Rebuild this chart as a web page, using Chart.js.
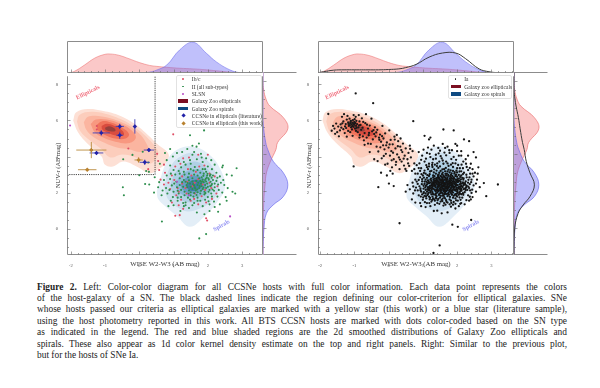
<!DOCTYPE html>
<html lang="en">
<head>
<meta charset="UTF-8">
<title>Figure 2</title>
<script src="https://cdn.jsdelivr.net/npm/chart.js"></script>
<style>
    html, body { margin: 0; padding: 0; background: #fff; }
    body { width: 600px; height: 388px; position: relative; overflow: hidden; filter: blur(0.35px); }
    canvas { position: absolute; }
    .legend { position: absolute; border: 1px solid #e2e2e2; border-radius: 2px; background: rgba(255,255,255,.85);
        font: 5.5px "Liberation Serif", serif; color: #333; box-sizing: border-box; }
    .row { position: absolute; white-space: nowrap; line-height: 6px; }
    .mark { position: absolute; }
    .line { position: absolute; left: 37px; width: 530px; font: 9.4px/11px "Liberation Serif", serif; color: #222;
        text-align: justify; text-align-last: justify; white-space: nowrap; }
    .line.last { text-align-last: left; }
</style>
</head>
<body>
<canvas id="topL" width="196" height="32" style="left:67px;top:41px"></canvas>
<canvas id="mainL" width="209" height="197" style="left:54px;top:72px"></canvas>
<canvas id="sideL" width="34" height="183" style="left:263px;top:72px"></canvas>
<canvas id="topR" width="196" height="32" style="left:318px;top:41px"></canvas>
<canvas id="mainR" width="209" height="197" style="left:305px;top:72px"></canvas>
<canvas id="sideR" width="34" height="183" style="left:514px;top:72px"></canvas>

<div id="legL" class="legend" style="left:176px;top:75px;width:86px;height:53px"></div>
<div id="legR" class="legend" style="left:448px;top:75px;width:64px;height:24px"></div>

<div id="caption"></div>

<script>
// marginal kde
const kdeX = [-2.1,-1.9,-1.6,-1.3,-1.0,-0.85,-0.6,-0.3,0,0.3,0.5,0.8,1.18,1.57,1.96,2.25,2.64,2.93,3.2,3.6];
const kdeEll = [0,0.05,0.25,0.47,0.59,0.6,0.56,0.45,0.33,0.24,0.21,0.18,0.15,0.13,0.1,0.07,0.03,0.01,0,0];
const kdeSpi = [0,0,0,0,0,0,0,0,0,0.03,0.09,0.25,0.73,0.97,0.62,0.35,0.1,0.01,0,0];
const kdeIa = [0,0.04,0.09,0.1,0.1,0.1,0.1,0.1,0.11,0.13,0.17,0.27,0.5,0.63,0.63,0.45,0.13,0.04,0.01,0];

// marginal kde
const sideY = [8.5,8,7.5,7,6.63,6,5.4,4.65,4.27,3.63,3.0,2.35,1.72,1.26,0.8,0,-1,-1.46];
const sideEll = [0,0,0.02,0.09,0.2,0.6,0.73,0.43,0.38,0.22,0.1,0.06,0.03,0.02,0.01,0.01,0,0];
const sideSpi = [0,0,0,0,0,0,0.02,0.08,0.14,0.3,0.6,0.73,0.6,0.3,0.1,0.03,0.005,0];
const sideIa = [0,0,0,0.03,0.06,0.13,0.18,0.25,0.3,0.36,0.47,0.6,0.47,0.27,0.12,0.02,0,0];

// 2d density levels of the galaxy zoo samples, outermost first
const ellipticalLevels = [
    [[-1.93,6.0],[-1.84,6.45],[-1.5,6.63],[-1.12,6.55],[-0.62,6.3],[-0.13,5.8],[0.25,5.2],[0.55,4.65],[0.85,4.15],[0.8,3.7],[0.6,3.35],[0.31,3.08],[-0.08,3.45],[-0.47,3.72],[-0.77,3.45],[-1.0,3.54],[-1.1,4.0],[-1.5,4.7],[-1.79,5.35],[-1.93,6.0]],
    [[-1.82,5.95],[-1.74,6.32],[-1.4,6.48],[-1.0,6.38],[-0.55,6.08],[-0.1,5.58],[0.25,5.02],[0.5,4.45],[0.55,4.1],[0.3,3.6],[-0.1,3.95],[-0.5,4.12],[-0.85,3.95],[-1.1,4.4],[-1.45,4.9],[-1.72,5.4],[-1.82,5.95]],
    [[-1.62,5.9],[-1.5,6.2],[-1.2,6.25],[-0.8,6.1],[-0.4,5.8],[-0.02,5.3],[0.2,4.75],[0.25,4.4],[0.02,4.25],[-0.3,4.4],[-0.65,4.5],[-1.0,4.75],[-1.35,5.1],[-1.55,5.5],[-1.62,5.9]],
    [[-1.42,5.8],[-1.27,6.05],[-0.95,6.05],[-0.55,5.82],[-0.22,5.45],[-0.1,5.05],[-0.28,4.75],[-0.7,4.82],[-1.05,5.05],[-1.3,5.35],[-1.42,5.8]],
    [[-1.25,5.75],[-1.1,5.95],[-0.85,5.9],[-0.5,5.6],[-0.3,5.25],[-0.4,5.0],[-0.7,5.0],[-1.0,5.2],[-1.2,5.45],[-1.25,5.75]],
    [[-1.1,5.7],[-0.95,5.82],[-0.75,5.72],[-0.5,5.45],[-0.45,5.2],[-0.65,5.15],[-0.9,5.3],[-1.08,5.5],[-1.1,5.7]],
    [[-1.0,5.6],[-0.88,5.68],[-0.72,5.55],[-0.7,5.42],[-0.85,5.4],[-0.98,5.48],[-1.0,5.6]]
];
const spiralLevels = [
    [[0.51,2.08],[0.8,3.72],[1.09,4.36],[1.57,4.55],[2.06,4.09],[2.4,3.17],[2.5,2.26],[2.26,1.44],[1.92,0.72],[1.48,0.11],[1.09,0.72],[0.75,1.26],[0.55,1.64],[0.51,2.08]],
    [[0.72,2.3],[0.9,3.4],[1.2,4.0],[1.6,4.2],[2.0,3.75],[2.25,3.0],[2.32,2.2],[2.1,1.5],[1.75,1.1],[1.4,0.95],[1.1,1.2],[0.85,1.6],[0.72,2.3]],
    [[0.9,2.4],[1.05,3.1],[1.35,3.6],[1.7,3.7],[2.0,3.3],[2.15,2.7],[2.1,2.0],[1.85,1.55],[1.5,1.45],[1.2,1.6],[1.0,1.9],[0.9,2.4]],
    [[1.05,2.4],[1.2,2.95],[1.5,3.25],[1.8,3.25],[2.0,2.85],[2.05,2.3],[1.85,1.85],[1.5,1.75],[1.2,1.95],[1.05,2.4]],
    [[1.2,2.4],[1.35,2.8],[1.6,2.95],[1.85,2.8],[1.95,2.4],[1.8,2.05],[1.5,1.95],[1.3,2.1],[1.2,2.4]],
    [[1.35,2.4],[1.5,2.65],[1.7,2.7],[1.85,2.5],[1.75,2.2],[1.5,2.1],[1.35,2.4]]
];
const ellipticalColors = ["#fde0d5","#fccdbc","#fbb5a0","#f89880","#f0735b","#d94c3f","#96413c"];
const spiralColors = ["rgba(222,235,246,.85)","#cde0ef","#b0d0e5","#8cbad8","#669dc4","#3f7da9"];

// colour criterion box
const cutX = [-2.11,0.46,0.46];
const cutY = [3,3,8.48];

// ccsne in ellipticals: x, y, x error, y error
const litX = [-1.11,-0.57,-0.57,-0.13,0.28,0.16,-1.25];
const litY = [5.31,5.67,5.18,5.67,4.36,3.68,4.2];
const litXErr = [0.25,0.12,0.1,0.03,0.15,0.15,0.2];
const litYErr = [0.15,0.15,0.2,0.4,0.1,0.15,0.1];
const thisX = [-1.4,-1.52,-0.02];
const thisY = [4.36,3.27,3.81];
const thisXErr = [0.44,0.27,0.12];
const thisYErr = [0.45,0.05,0.15];

const slsnPts = [[2.65,0.68],[1.45,1.85],[-2.02,5.72],[1.1,2.6]];

const ibcPts = [[-1.24,5.69],[-1.24,5.5],[-0.32,4.45],[0.26,3.3],[0.99,5.23],[0.52,4.15],[0.55,3.75],[0.58,3.25],[1.28,3.9],[1.45,3.95],[1.72,4.1],[2.0,4.1],[1.2,3.6],[0.72,3.55],[0.75,3.1],[1.05,3.45],[0.95,2.95],[0.62,2.72],[0.72,2.45],[1.02,2.7],[1.25,2.9],[1.52,2.95],[1.65,3.15],[1.9,3.5],[0.9,2.2],[1.12,2.25],[1.25,2.5],[1.4,2.6],[1.55,2.35],[1.72,2.75],[1.85,2.45],[2.05,2.55],[2.2,2.9],[2.28,2.35],[1.08,1.85],[1.22,1.6],[1.38,1.95],[1.5,1.55],[1.62,1.95],[1.82,1.8],[1.95,1.45],[2.12,1.65],[2.25,1.95],[0.95,1.45],[1.15,1.3],[1.28,1.1],[1.6,1.65],[1.72,1.35],[1.05,0.72],[1.18,0.75],[1.95,0.58],[1.98,0.45],[1.15,2.05],[1.35,2.25],[1.62,2.55],[1.92,2.15],[2.1,2.25],[0.85,2.55],[1.42,3.3],[1.75,3.45],[2.05,3.05]];

const iiPts = [[-0.48,2.3],[-0.45,1.85],[0.17,2.48],[0.29,2.45],[0,2.96],[0.43,2],[0.66,0.4],[1.75,-0.54],[1.95,-0.3],[2.84,3.35],[2.3,0.94],[2.44,3.5],[1.48,5.18],[1.89,5.45],[1.74,4.72],[1.67,4.55],[1.55,4.6],[1.4,4.42],[0.9,4.42],[0.75,4.2],[0.6,3.6],[-0.47,3.85],[-0.2,4.09],[0.1,4.27],[0.26,3.67],[0.2,3.2],[0.28,3.15],[2.42,3.4],[2.55,3.0],[2.7,2.95],[2.58,2.25],[2.72,2.05],[2.8,1.95],[2.52,1.75],[2.35,1.35],[2.55,1.55],[0.45,2.85],[0.55,2.3],[0.65,1.85],[0.85,1.25],[1.0,1.3],[1.2,0.98],[1.3,1.25],[1.9,0.8],[1.68,0.9],[1.45,1.15],[2.05,0.98],[2.2,1.2],[0.98,4.0],[1.1,4.2],[1.25,4.25],[1.55,4.1],[1.6,4.25],[1.8,4.15],[1.95,3.9],[2.1,3.8],[2.2,3.55],[0.8,3.8],[0.9,3.5],[1.0,3.25],[1.15,3.2],[1.22,3.4],[1.35,3.55],[1.5,3.6],[1.62,3.42],[1.85,3.7],[2.0,3.45],[2.12,3.3],[2.25,3.1],[2.35,2.9],[2.45,2.7],[2.38,2.55],[2.48,2.42],[2.32,2.15],[2.42,2.0],[2.28,1.78],[2.18,1.5],[2.05,1.35],[1.85,1.25],[1.55,1.3],[1.35,1.45],[1.12,1.55],[0.98,1.75],[0.82,1.95],[0.78,2.25],[0.72,2.7],[0.8,2.95],[0.92,3.05],[1.05,3.0],[1.08,2.6],[0.95,2.4],[1.0,2.05],[1.15,1.95],[1.22,1.75],[1.32,1.85],[1.42,1.72],[1.5,1.85],[1.58,1.78],[1.7,1.72],[1.78,1.95],[1.9,1.9],[2.0,1.75],[2.1,1.95],[2.18,2.1],[2.02,2.05],[1.95,2.25],[2.1,2.4],[2.2,2.5],[2.15,2.7],[2.02,2.8],[1.92,2.7],[1.82,2.85],[1.7,2.95],[1.6,3.0],[1.45,3.05],[1.32,3.0],[1.18,2.8],[1.3,2.7],[1.42,2.85],[1.55,2.8],[1.66,2.65],[1.78,2.65],[1.88,2.58],[1.98,2.5],[2.08,2.6],[1.92,2.42],[1.8,2.5],[1.7,2.42],[1.6,2.4],[1.48,2.5],[1.38,2.42],[1.28,2.32],[1.18,2.42],[1.22,2.15],[1.32,2.05],[1.45,2.12],[1.55,2.2],[1.65,2.12],[1.75,2.25],[1.85,2.2],[1.9,2.05],[1.8,2.1],[1.7,2.02],[1.6,1.98],[1.5,2.02],[1.4,2.3],[1.5,2.32],[1.62,2.3],[1.72,2.55],[1.82,2.35],[2.0,2.32],[2.05,2.15],[1.95,2.62],[1.85,2.72],[1.75,2.8],[1.98,2.95],[2.08,3.0],[1.88,3.05],[1.95,3.15],[1.78,3.1],[1.7,3.25],[2.15,2.95],[2.25,2.65],[2.28,2.82],[1.1,2.3],[1.02,2.5],[0.9,2.75],[1.12,2.1],[0.88,2.15],[1.35,1.3],[1.6,1.42],[1.78,1.55],[1.92,1.6],[2.02,1.52],[1.48,1.62],[1.28,1.42],[1.12,1.72],[0.92,1.55],[2.12,1.78],[1.7,1.55],[2.2,2.3],[2.3,2.45],[2.12,2.48],[1.55,2.62],[1.45,2.68],[1.35,2.6],[1.25,2.58],[1.18,3.05],[0.68,2.12],[0.58,2.58],[1.92,3.3],[1.85,3.3],[1.58,3.22],[1.5,3.3],[1.3,3.15],[1.15,3.75],[1.3,3.7],[1.48,3.8],[1.68,3.85],[1.82,3.95],[2.03,2.71],[1.97,2.83],[2.06,2.93],[1.99,3.04],[2.11,2.83],[1.94,2.77],[2.07,2.36],[1.87,2.93],[2.14,2.17],[1.76,2.37],[1.63,2.23],[1.83,2.61],[1.57,2.47],[1.69,2.17],[1.41,2.53],[1.93,1.97],[1.87,2.28],[1.44,1.94],[1.67,1.87]];

const iaEll = [[-0.96,7.5],[-0.45,6.96],[-1.76,6.36],[-1.62,5.7],[-1.58,5.55],[-1.5,5.35],[-1.45,5.12],[-1.42,5.45],[-1.4,5.78],[-1.38,5.6],[-1.36,6.2],[-1.32,5.95],[-1.3,6.35],[-1.28,5.3],[-1.25,5.8],[-1.24,5.58],[-1.22,6.05],[-1.2,6.25],[-1.18,5.9],[-1.18,5.42],[-1.16,5.7],[-1.14,6.1],[-1.12,5.85],[-1.1,5.62],[-1.1,5.98],[-1.08,5.78],[-1.07,5.5],[-1.06,5.88],[-1.05,5.72],[-1.04,6.02],[-1.03,5.82],[-1.02,5.65],[-1.0,5.92],[-1.0,5.76],[-0.98,5.55],[-0.97,5.86],[-0.96,6.2],[-0.95,5.7],[-0.94,5.98],[-0.92,5.8],[-0.9,5.35],[-0.88,5.62],[-0.87,6.3],[-0.85,5.95],[-0.84,5.2],[-0.82,5.75],[-0.8,5.48],[-0.78,6.12],[-0.76,5.6],[-0.72,4.9],[-0.7,5.3],[-0.68,5.85],[-0.66,6.35],[-0.64,5.05],[-0.6,5.55],[-0.58,5.18],[-0.55,5.72],[-0.52,4.7],[-0.5,6.1],[-0.48,5.4],[-0.46,4.95],[-0.42,5.25],[-0.4,5.62],[-0.38,5.12],[-0.35,4.55],[-0.33,5.48],[-0.3,4.28],[-0.28,5.05],[-0.25,5.22],[-0.22,4.82],[-0.2,3.9],[-0.18,5.7],[-0.16,4.62],[-0.15,5.0],[-0.12,4.4],[-0.1,5.28],[-0.08,4.15],[-0.05,4.78],[-0.03,3.6],[0,4.5],[0.02,5.45],[0.04,4.05],[0.06,4.92],[0.08,4.3],[0.1,3.4],[0.12,4.68],[0.15,3.85],[0.17,5.1],[0.2,4.45],[0.22,3.7],[0.24,5.2],[0.25,4.12],[0.28,4.85],[0.3,3.95],[0.32,3.3],[0.34,4.55],[0.35,5.0],[0.38,3.72],[0.4,4.25],[0.42,4.72],[0.45,3.5],[0.47,4.05],[0.5,4.45],[0.52,3.2],[0.55,3.85],[0.58,4.2],[0.6,3.48],[0.62,4.6],[0.65,3.95],[0.68,3.2],[0.72,5.96],[0.7,4.3],[0.75,3.62],[-1.02,3.45],[-0.3,2.3],[0.01,2.5],[0.15,2.36],[-0.22,3.1],[-0.1,3.55],[-0.32,3.75],[-0.42,3.85],[-0.55,4.25],[-0.7,4.65],[0.05,3.2],[0.12,3.05],[-0.05,2.95],[-1.32,5.52],[-1.12,5.35],[-1.05,5.15],[-0.95,5.42],[-0.75,5.12],[-0.6,4.72],[-0.85,5.05],[-1.02,6.3],[-1.22,5.1],[-1.13,5.74],[-1.07,5.66],[-1.01,5.84],[-0.93,5.59],[-1.11,5.93],[-1.17,5.81],[-0.99,6.07],[-0.86,5.73],[-1.27,5.67],[-1.35,5.84],[-1.47,5.66],[-1.53,5.83],[-1.56,5.26],[-1.66,5.43],[-0.74,5.92],[-0.63,5.77],[-0.57,5.31],[-0.44,5.47],[-0.36,5.34],[-0.27,4.93],[-0.19,5.13],[-0.24,4.51],[-0.07,4.62],[0.03,4.67],[0.13,4.21],[0.18,4.94],[0.27,4.57],[0.37,4.36],[0.44,3.88],[-0.14,4.03],[0.09,3.79],[0.21,3.54],[0.33,3.83],[0.57,3.62],[0.49,3.31],[0.63,4.42]];

const iaSpi = [[0.32,0.3],[1.31,-1.35],[1.49,-0.93],[1.86,0.22],[2.02,0.1],[2.41,0.48],[3.19,2.45],[2.85,1.8],[2.78,2.53],[1.55,0.85],[1.72,0.9],[1.42,1.0],[1.18,4.95],[1.05,5.15],[1.22,5.05],[1.6,5.5],[1.9,5.45],[1.95,4.7],[2.2,4.95],[2.12,4.3],[2.0,4.6],[2.35,4.85],[2.48,4.25],[2.32,4.05],[2.55,3.95],[2.62,3.4],[2.45,3.3],[2.52,3.1],[2.58,2.72],[2.66,2.3],[2.55,2.05],[2.45,1.75],[2.35,1.55],[2.22,1.35],[2.05,1.25],[1.82,1.22],[1.6,1.28],[1.35,1.32],[1.12,1.42],[0.92,1.42],[0.78,1.45],[0.68,1.62],[0.72,1.95],[0.62,2.18],[0.7,2.55],[0.8,2.28],[0.88,1.85],[1.0,1.6],[0.85,3.05],[0.95,3.35],[1.05,3.72],[0.98,4.05],[1.12,4.2],[1.25,4.38],[1.38,4.1],[1.5,4.32],[1.65,4.48],[1.78,4.2],[1.9,3.98],[2.05,4.05],[2.18,3.72],[2.28,3.42],[2.38,3.05],[2.42,2.72],[2.48,2.4],[2.38,2.12],[2.32,1.85],[1.18,3.6],[1.3,3.85],[1.42,3.62],[1.55,3.9],[1.68,3.72],[1.82,3.55],[1.95,3.62],[2.08,3.35],[2.2,3.1],[2.28,2.85],[2.32,2.55],[2.25,2.25],[2.22,2.02],[2.15,1.72],[2.02,1.55],[1.9,1.48],[1.72,1.45],[1.52,1.5],[1.35,1.55],[1.2,1.62],[1.05,1.82],[0.95,2.05],[0.9,2.35],[0.98,2.62],[0.92,2.85],[1.08,3.05],[1.15,3.3],[1.28,3.42],[1.4,3.22],[1.5,3.45],[1.62,3.3],[1.75,3.28],[1.88,3.2],[2.0,3.12],[2.12,2.95],[2.18,2.72],[2.2,2.48],[2.12,2.2],[2.08,1.95],[2.0,1.78],[1.88,1.72],[1.78,1.62],[1.65,1.68],[1.5,1.72],[1.4,1.8],[1.28,1.78],[1.15,1.92],[1.08,2.15],[1.02,2.38],[1.1,2.6],[1.12,2.82],[1.2,3.02],[1.32,3.12],[1.45,3.0],[1.58,3.1],[1.7,3.05],[1.82,2.98],[1.95,2.92],[2.05,2.78],[2.1,2.6],[2.12,2.38],[2.05,2.22],[2.0,2.05],[1.95,1.92],[1.85,1.88],[1.72,1.8],[1.6,1.85],[1.48,1.92],[1.38,1.95],[1.28,2.02],[1.2,2.12],[1.15,2.3],[1.18,2.52],[1.22,2.72],[1.3,2.85],[1.42,2.82],[1.52,2.92],[1.62,2.88],[1.72,2.85],[1.85,2.78],[1.95,2.72],[2.02,2.58],[2.02,2.42],[1.98,2.28],[1.92,2.15],[1.85,2.05],[1.75,1.98],[1.65,2.02],[1.55,2.0],[1.45,2.08],[1.35,2.15],[1.28,2.25],[1.25,2.42],[1.3,2.58],[1.38,2.68],[1.48,2.72],[1.58,2.75],[1.68,2.7],[1.78,2.68],[1.88,2.6],[1.92,2.48],[1.88,2.35],[1.82,2.25],[1.72,2.15],[1.62,2.12],[1.52,2.18],[1.42,2.25],[1.36,2.38],[1.4,2.52],[1.5,2.58],[1.6,2.6],[1.7,2.55],[1.78,2.5],[1.82,2.4],[1.75,2.3],[1.65,2.25],[1.55,2.3],[1.48,2.4],[1.55,2.48],[1.65,2.45],[1.72,2.38],[1.6,2.38],[1.32,2.48],[1.44,2.62],[1.54,2.66],[1.74,2.62],[1.84,2.55],[1.96,2.38],[2.06,2.32],[2.0,2.18],[1.88,2.0],[1.78,2.08],[1.68,1.92],[1.58,1.95],[1.42,2.0],[1.32,1.9],[1.22,2.0],[1.12,2.05],[1.18,2.2],[1.28,2.35],[1.22,2.55],[1.35,2.78],[1.46,2.86],[1.58,2.82],[1.68,2.95],[1.8,2.9],[1.9,2.85],[2.02,2.68],[2.14,2.5],[2.16,2.3],[2.1,2.1],[2.05,1.88],[1.95,1.68],[1.82,1.55],[1.68,1.58],[1.55,1.6],[1.45,1.65],[1.3,1.68],[1.18,1.78],[1.08,1.95],[1.02,2.22],[1.05,2.48],[1.08,2.72],[1.18,2.92],[1.25,3.2],[1.38,3.05],[1.52,3.2],[1.65,3.18],[1.78,3.12],[1.92,3.05],[2.05,2.98],[2.15,2.82],[2.25,2.62],[2.28,2.38],[2.3,2.15],[2.18,1.88],[2.1,1.6],[1.95,1.38],[1.78,1.35],[1.62,1.42],[1.42,1.42],[1.25,1.5],[1.1,1.68],[0.98,1.9],[0.85,2.12],[0.85,2.48],[0.88,2.7],[1.0,2.95],[1.05,3.22],[1.18,3.45],[1.35,3.55],[1.48,3.72],[1.6,3.6],[1.75,3.48],[1.88,3.42],[2.0,3.35],[2.12,3.18],[2.35,2.25],[2.42,1.98],[1.7,2.22],[1.58,2.22],[1.46,2.32],[1.62,2.52],[1.8,2.6],[1.9,2.3],[1.52,2.08],[1.72,2.72],[1.96,2.55],[1.85,2.45],[1.68,2.35],[1.56,2.56],[1.42,2.45],[1.34,2.58],[1.26,2.15],[1.66,2.08],[1.76,1.88],[1.9,1.82],[2.02,1.98],[1.52,1.82],[1.62,1.75],[1.38,1.72],[1.25,1.9],[1.12,2.45],[2.08,2.45],[2.0,2.88],[1.86,2.92],[1.74,2.98],[1.6,2.95],[1.44,2.92],[1.3,2.95],[1.15,2.68],[1.48,3.1],[1.72,3.18],[1.98,3.22],[1.28,3.65],[1.1,3.52],[0.92,3.2],[0.78,2.72],[0.75,3.3],[0.82,3.52],[0.95,3.82],[0.88,4.25],[1.02,4.38],[1.15,4.5],[1.32,4.6],[1.45,4.48],[1.58,4.7],[1.72,4.55],[1.85,4.35],[2.0,4.3],[2.12,4.05],[2.25,3.85],[2.4,3.6],[2.32,3.25],[2.6,3.05],[2.48,2.9],[2.4,1.62],[2.55,2.5],[1.32,0.98],[1.95,1.12],[2.12,1.42],[0.95,1.25],[1.08,1.2],[1.22,1.25],[0.55,2.42],[0.5,2.05]];

// extra hosts in the crowded middle of the Ia cloud
const iaCore = [[1.47,2.37],[1.53,2.43],[1.59,2.33],[1.63,2.41],[1.67,2.29],[1.71,2.47],[1.77,2.33],[1.81,2.53],[1.87,2.41],[1.93,2.33],[1.97,2.47],[1.43,2.63],[1.51,2.69],[1.57,2.59],[1.63,2.71],[1.69,2.63],[1.77,2.59],[1.83,2.67],[1.89,2.69],[1.93,2.61],[1.99,2.63],[1.37,2.29],[1.41,2.17],[1.49,2.23],[1.55,2.13],[1.61,2.19],[1.69,2.09],[1.73,2.23],[1.79,2.17],[1.83,2.11],[1.89,2.21],[1.95,2.11],[2.03,2.27],[2.09,2.31],[1.33,2.37],[1.27,2.47],[1.21,2.37],[1.17,2.61],[1.25,2.65],[1.31,2.73],[1.37,2.57],[1.39,2.79],[1.47,2.81],[1.55,2.87],[1.65,2.83],[1.75,2.93],[1.83,2.83],[1.91,2.79],[2.01,2.75],[2.07,2.67],[2.11,2.73],[2.17,2.57],[2.19,2.41],[2.23,2.53],[2.27,2.31],[2.13,2.11],[2.19,2.19],[2.07,2.03],[1.99,1.93],[1.93,1.87],[1.83,1.93],[1.73,1.93],[1.63,1.91],[1.57,1.83],[1.47,1.87],[1.37,1.87],[1.29,1.93],[1.23,2.07],[1.17,1.99],[1.13,2.19],[1.07,2.29],[1.03,2.03],[1.09,1.79],[1.21,1.71],[1.33,1.63],[1.43,1.57],[1.57,1.53],[1.69,1.49],[1.83,1.43],[1.97,1.57],[2.07,1.73],[2.17,1.97],[2.25,2.13],[2.33,2.33],[2.37,2.47],[2.33,2.71],[2.27,2.99],[2.17,3.03],[2.07,3.17],[1.93,3.13],[1.81,3.23],[1.67,3.37],[1.57,3.29],[1.45,3.37],[1.33,3.29],[1.21,3.17],[1.13,2.97],[1.03,2.83],[0.97,2.47],[0.93,2.23],[1.01,1.73],[1.47,2.47],[1.61,2.49],[1.73,2.43],[1.85,2.31],[1.57,2.39],[1.66,2.53],[1.79,2.41],[1.91,2.53],[1.99,2.41],[1.45,2.55],[1.35,2.47],[1.29,2.41],[1.53,2.27],[1.64,2.17],[1.77,2.11],[1.87,2.13],[1.97,2.19],[1.59,2.67],[1.71,2.77],[1.81,2.73],[1.49,2.77],[1.39,2.63],[1.27,2.53],[1.19,2.31],[1.25,2.29],[1.41,2.11],[1.51,1.97],[1.65,1.97],[1.81,2.01],[2.01,2.11],[2.09,2.19],[2.15,2.33],[2.1,2.51],[2.04,2.63],[1.97,2.71],[1.89,2.77],[1.79,2.79],[1.67,2.77],[1.55,2.73],[1.41,2.71],[1.33,2.67],[1.71,2.31],[1.63,2.35],[1.75,2.51],[1.86,2.49],[1.69,2.61],[1.59,2.53],[1.49,2.51],[1.43,2.35],[1.54,2.34],[1.81,2.19],[1.91,2.27],[1.61,2.07],[1.47,2.13],[1.37,2.09],[1.31,2.21],[1.23,2.23],[1.16,2.13],[1.09,2.37],[1.14,2.54],[1.24,2.78],[1.34,2.91],[1.46,2.97],[1.56,3.02],[1.66,3.04],[1.84,3.07],[1.97,2.99],[2.09,2.87],[2.19,2.79],[2.24,2.44],[2.23,2.22],[2.12,1.91],[1.98,1.83],[1.79,1.76],[1.58,1.67],[1.39,1.68],[1.27,1.59],[1.13,1.86],[1.02,1.97],[0.93,2.13],[1.05,2.61],[0.98,2.74],[0.82,2.61],[0.77,2.12],[0.72,2.34],[0.94,1.78],[1.06,1.47],[1.19,1.42],[1.48,1.38],[1.66,1.33],[1.88,1.33],[2.09,1.38],[2.27,1.58],[2.37,1.77],[2.44,2.16],[2.41,2.58],[2.36,2.84],[2.45,3.05],[2.17,3.35],[2.03,3.53],[1.87,3.63],[1.72,3.62],[1.58,3.78],[1.41,3.47],[1.27,3.53],[1.12,3.41],[1.03,3.09],[0.96,3.02],[0.88,3.36],[1.09,3.88],[1.22,3.97],[1.38,3.88],[1.52,4.02],[1.68,4.07],[1.83,3.86],[1.97,3.82],[2.13,3.55],[2.26,3.6],[2.37,3.37],[1.63,4.22],[1.46,4.18],[1.2,4.15],[0.9,3.62],[0.78,3.05],[1.77,4.35]];

const topTicks = { x: [-2,-1,0,1,2,3], y: [0,2,4,6,8] };
const legendLeft = ["Ib/c","II (all sub-types)","SLSN","Galaxy Zoo ellipticals","Galaxy Zoo spirals","CCSNe in ellipticals (literature)","CCSNe in ellipticals (this work)"];
const legendRight = ["Ia","Galaxy zoo ellipticals","Galaxy zoo spirals"];
const captionLines = [
    "<b>Figure 2.</b> Left: Color-color diagram for all CCSNe hosts with full color information. Each data point represents the colors",
    "of the host-galaxy of a SN. The black dashed lines indicate the region defining our color-criterion for elliptical galaxies. SNe",
    "whose hosts passed our criteria as elliptical galaxies are marked with a yellow star (this work) or a blue star (literature sample),",
    "using the host photometry reported in this work. All BTS CCSN hosts are marked with dots color-coded based on the SN type",
    "as indicated in the legend. The red and blue shaded regions are the 2d smoothed distributions of Galaxy Zoo ellipticals and",
    "spirals. These also appear as 1d color kernel density estimate on the top and right panels. Right: Similar to the previous plot,",
    "but for the hosts of SNe Ia."
];

const SERIF = "'Liberation Serif', serif";
const FRAME = "#8c8c8c";
const RED_FILL = "rgba(245,125,125,.42)", RED_LINE = "rgba(235,110,110,.65)";
const BLUE_FILL = "rgba(105,105,245,.42)", BLUE_LINE = "rgba(105,105,235,.65)";

const pairs = arr => arr.map(p => ({ x: p[0], y: p[1] }));

function stepTicks(ctx, scale, from, to, step, major, horizontal, edge, dir) {
    for (let v = from; v <= to + 1e-6; v += step) {
        const p = Math.round(scale.getPixelForValue(v)) + 0.5;
        const isMajor = Math.abs(v / major - Math.round(v / major)) < 1e-6;
        const len = isMajor ? 3 : 1.5;
        ctx.beginPath();
        if (horizontal) { ctx.moveTo(p, edge); ctx.lineTo(p, edge + dir * len); }
        else { ctx.moveTo(edge, p); ctx.lineTo(edge + dir * len, p); }
        ctx.stroke();
    }
}

// gray frame and the small inward ticks
const framePlugin = {
    id: "frame",
    afterDatasetsDraw(chart, args, opts) {
        const { ctx, chartArea: a } = chart;
        const l = a.left + 0.5, r = a.right - 0.5, t = a.top + 0.5, b = a.bottom - 0.5;
        ctx.save();
        ctx.strokeStyle = FRAME;
        ctx.lineWidth = 1;
        const seg = { left: [l,t,l,b], right: [r,t,r,b], top: [l,t,r,t], bottom: [l,b,r,b] };
        (opts.sides || []).forEach(s => {
            ctx.beginPath(); ctx.moveTo(seg[s][0], seg[s][1]); ctx.lineTo(seg[s][2], seg[s][3]); ctx.stroke();
        });
        ctx.strokeStyle = "#666";
        ctx.lineWidth = 0.6;
        if (opts.ticksX) stepTicks(ctx, chart.scales.x, -2, 3.6, 0.2, 1, true, b, -1);
        if (opts.ticksY) stepTicks(ctx, chart.scales.y, -1, 8, 0.5, 2, false, l, 1);
        ctx.restore();
    }
};

// rotated region names
const regionPlugin = {
    id: "regions",
    afterDatasetsDraw(chart) {
        const { ctx, scales } = chart;
        [["Ellipticals", -1.5, 7.55, -0.46, "#f0707f"], ["Spirals", 2.4, 0.17, -0.52, "#8f8ff2"]].forEach(t => {
            ctx.save();
            ctx.translate(scales.x.getPixelForValue(t[1]), scales.y.getPixelForValue(t[2]));
            ctx.rotate(t[3]);
            ctx.font = "bold 6px " + SERIF;
            ctx.fillStyle = t[4];
            ctx.textAlign = "center";
            ctx.textBaseline = "middle";
            ctx.fillText(t[0], 0, 0);
            ctx.restore();
        });
    }
};

function levelSets() {
    const out = [];
    ellipticalLevels.forEach((lvl, i) => out.push({ data: pairs(lvl), showLine: true, fill: "shape", tension: 0.4, pointRadius: 0, borderWidth: 0, backgroundColor: ellipticalColors[i] }));
    spiralLevels.forEach((lvl, i) => out.push({ data: pairs(lvl), showLine: true, fill: "shape", tension: 0.4, pointRadius: 0, borderWidth: 0, backgroundColor: spiralColors[i] }));
    return out;
}

function dots(data, color, radius) {
    return { data: pairs(data), showLine: false, pointRadius: radius, pointBorderWidth: 0, pointBackgroundColor: color };
}

function errorBars(xs, ys, xe, ye, color) {
    const pts = [];
    xs.forEach((x, i) => {
        pts.push({ x: x - xe[i], y: ys[i] }, { x: x + xe[i], y: ys[i] }, { x: NaN, y: NaN });
        pts.push({ x: x, y: ys[i] - ye[i] }, { x: x, y: ys[i] + ye[i] }, { x: NaN, y: NaN });
    });
    return { data: pts, showLine: true, spanGaps: false, borderColor: color, borderWidth: 0.9, pointRadius: 0, fill: false };
}

function markers(xs, ys, color) {
    return { data: xs.map((x, i) => ({ x, y: ys[i] })), showLine: false, pointStyle: "rectRot", pointRadius: 2.2, pointBorderWidth: 0, pointBackgroundColor: color };
}

function mainChart(id, xMin, xMax, painted) {
    new Chart(document.getElementById(id), {
        type: "scatter",
        // first dataset is drawn on top, so flip the paint order
        data: { datasets: painted.reverse() },
        options: {
            responsive: false,
            animation: false,
            events: [],
            layout: { padding: 0, autoPadding: false },
            plugins: { legend: { display: false }, tooltip: { enabled: false }, frame: { sides: ["left", "bottom", "right"], ticksX: true, ticksY: true } },
            scales: {
                x: {
                    min: xMin, max: xMax, afterFit: s => { s.height = 14; },
                    grid: { display: false }, border: { display: false },
                    afterBuildTicks: s => { s.ticks = topTicks.x.map(v => ({ value: v })); },
                    ticks: { font: { size: 4.6, family: SERIF }, color: "#555", padding: 0, maxRotation: 0, autoSkip: false },
                    title: { display: true, text: "WISE W2-W3 (AB mag)", font: { size: 6.8, family: SERIF }, color: "#333", padding: { top: 0, bottom: 1 } }
                },
                y: {
                    min: -1.46, max: 8.48, afterFit: s => { s.width = 13; },
                    grid: { display: false }, border: { display: false },
                    afterBuildTicks: s => { s.ticks = topTicks.y.map(v => ({ value: v })); },
                    ticks: { font: { size: 4.6, family: SERIF }, color: "#555", padding: 1, autoSkip: false },
                    title: { display: true, text: "NUV-r (AB mag)", font: { size: 6.5, family: SERIF }, color: "#333", padding: 0 }
                }
            }
        },
        plugins: [framePlugin, regionPlugin]
    });
}

function topChart(id, xMin, xMax, sets) {
    new Chart(document.getElementById(id), {
        type: "scatter",
        data: { datasets: sets },
        options: {
            responsive: false, animation: false, events: [],
            layout: { padding: 0, autoPadding: false },
            plugins: { legend: { display: false }, tooltip: { enabled: false }, frame: { sides: ["left", "right", "top", "bottom"], ticksX: true } },
            scales: {
                x: { display: false, min: xMin, max: xMax },
                y: { display: false, min: 0, max: 1.01 }
            }
        },
        plugins: [framePlugin]
    });
}

function sideChart(id, sets) {
    new Chart(document.getElementById(id), {
        type: "scatter",
        data: { datasets: sets },
        options: {
            responsive: false, animation: false, events: [],
            layout: { padding: 0, autoPadding: false },
            plugins: { legend: { display: false }, tooltip: { enabled: false }, frame: { sides: ["top", "bottom"], ticksY: true } },
            scales: {
                x: { display: false, min: 0, max: 1 },
                y: { display: false, min: -1.46, max: 8.48 }
            }
        },
        plugins: [framePlugin]
    });
}

function kdeTop(vals, fillCol, lineCol) {
    return { data: kdeX.map((x, i) => ({ x, y: vals[i] })), showLine: true, fill: "origin", tension: 0.4, pointRadius: 0, borderWidth: 0.8, borderColor: lineCol, backgroundColor: fillCol };
}

function kdeSide(vals, fillCol, lineCol) {
    return { data: sideY.map((y, i) => ({ x: vals[i], y })), showLine: true, fill: "shape", tension: 0.4, pointRadius: 0, borderWidth: 1, borderColor: lineCol, backgroundColor: fillCol, clip: false };
}

function blackTop() {
    return { data: kdeX.map((x, i) => ({ x, y: kdeIa[i] })), showLine: true, fill: false, tension: 0.4, pointRadius: 0, borderWidth: 1, borderColor: "#3c3c3c" };
}

function blackSide() {
    return { data: sideY.map((y, i) => ({ x: sideIa[i], y })), showLine: true, fill: false, tension: 0.4, pointRadius: 0, borderWidth: 1, borderColor: "#3c3c3c" };
}

const box = [-2.11, 3.61], boxR = [-2.06, 3.66];

mainChart("mainL", box[0], box[1], [
    ...levelSets(),
    dots(ibcPts, "#df4f66", 1.05),
    dots(iiPts, "#2f8f4e", 1.05),
    dots(slsnPts, "#b84fc8", 1.05),
    errorBars(litX, litY, litXErr, litYErr, "#3f3fb8"),
    errorBars(thisX, thisY, thisXErr, thisYErr, "#b98a3c"),
    markers(litX, litY, "#2222a8"),
    markers(thisX, thisY, "#b8812e"),
    { data: cutX.map((x, i) => ({ x, y: cutY[i] })), showLine: true, fill: false, pointRadius: 0, borderColor: "#333", borderWidth: 0.9, borderDash: [1.2, 1] }
]);

mainChart("mainR", boxR[0], boxR[1], [
    ...levelSets(),
    dots(iaEll, "#1a1a1a", 1.15),
    dots(iaSpi, "#141414", 1.15),
    dots(iaCore, "#141414", 1.15)
]);

topChart("topL", box[0], box[1], [kdeTop(kdeSpi, BLUE_FILL, BLUE_LINE), kdeTop(kdeEll, RED_FILL, RED_LINE)]);
topChart("topR", boxR[0], boxR[1], [blackTop(), kdeTop(kdeSpi, BLUE_FILL, BLUE_LINE), kdeTop(kdeEll, RED_FILL, RED_LINE)]);
sideChart("sideL", [kdeSide(sideSpi, BLUE_FILL, BLUE_LINE), kdeSide(sideEll, RED_FILL, RED_LINE)]);
sideChart("sideR", [blackSide(), kdeSide(sideSpi, BLUE_FILL, BLUE_LINE), kdeSide(sideEll, RED_FILL, RED_LINE)]);

// legends are plain html so they can sit inside the axes like the original
function addRow(parent, text, top, markX, textX, mark) {
    const row = document.createElement("div");
    row.className = "row";
    row.style.top = (top - 3) + "px";
    row.style.left = textX + "px";
    row.textContent = text;
    parent.appendChild(row);
    const m = document.createElement("div");
    m.className = "mark";
    const s = mark;
    m.style.left = (markX - s.w / 2) + "px";
    m.style.top = (top - s.h / 2) + "px";
    m.style.width = s.w + "px";
    m.style.height = s.h + "px";
    m.style.background = s.c;
    if (s.round) m.style.borderRadius = "50%";
    if (s.rot) m.style.transform = "rotate(45deg)";
    parent.appendChild(m);
}

const leftMarks = [
    { w: 1.8, h: 1.8, c: "#df4f66", round: true },
    { w: 1.8, h: 1.8, c: "#2f8f4e", round: true },
    { w: 1.8, h: 1.8, c: "#b84fc8", round: true },
    { w: 10, h: 3.6, c: "#7c0f22" },
    { w: 10, h: 3.6, c: "#0f4a82" },
    { w: 3.2, h: 3.2, c: "#2222a8", rot: true },
    { w: 3.2, h: 3.2, c: "#b8812e", rot: true }
];
const rightMarks = [
    { w: 1.9, h: 1.9, c: "#222", round: true },
    { w: 10, h: 3.6, c: "#7c0f22" },
    { w: 10, h: 3.6, c: "#0f4a82" }
];
legendLeft.forEach((t, i) => addRow(document.getElementById("legL"), t, 3.2 + i * 7.33, 6.2, 14.8, leftMarks[i]));
legendRight.forEach((t, i) => addRow(document.getElementById("legR"), t, 3.2 + i * 7.33, 6.5, 15.2, rightMarks[i]));

const cap = document.getElementById("caption");
captionLines.forEach((t, i) => {
    const d = document.createElement("div");
    d.className = "line" + (i === captionLines.length - 1 ? " last" : "");
    d.style.top = (281.5 + i * 11.45) + "px";
    d.innerHTML = t;
    cap.appendChild(d);
});
</script>
</body>
</html>
